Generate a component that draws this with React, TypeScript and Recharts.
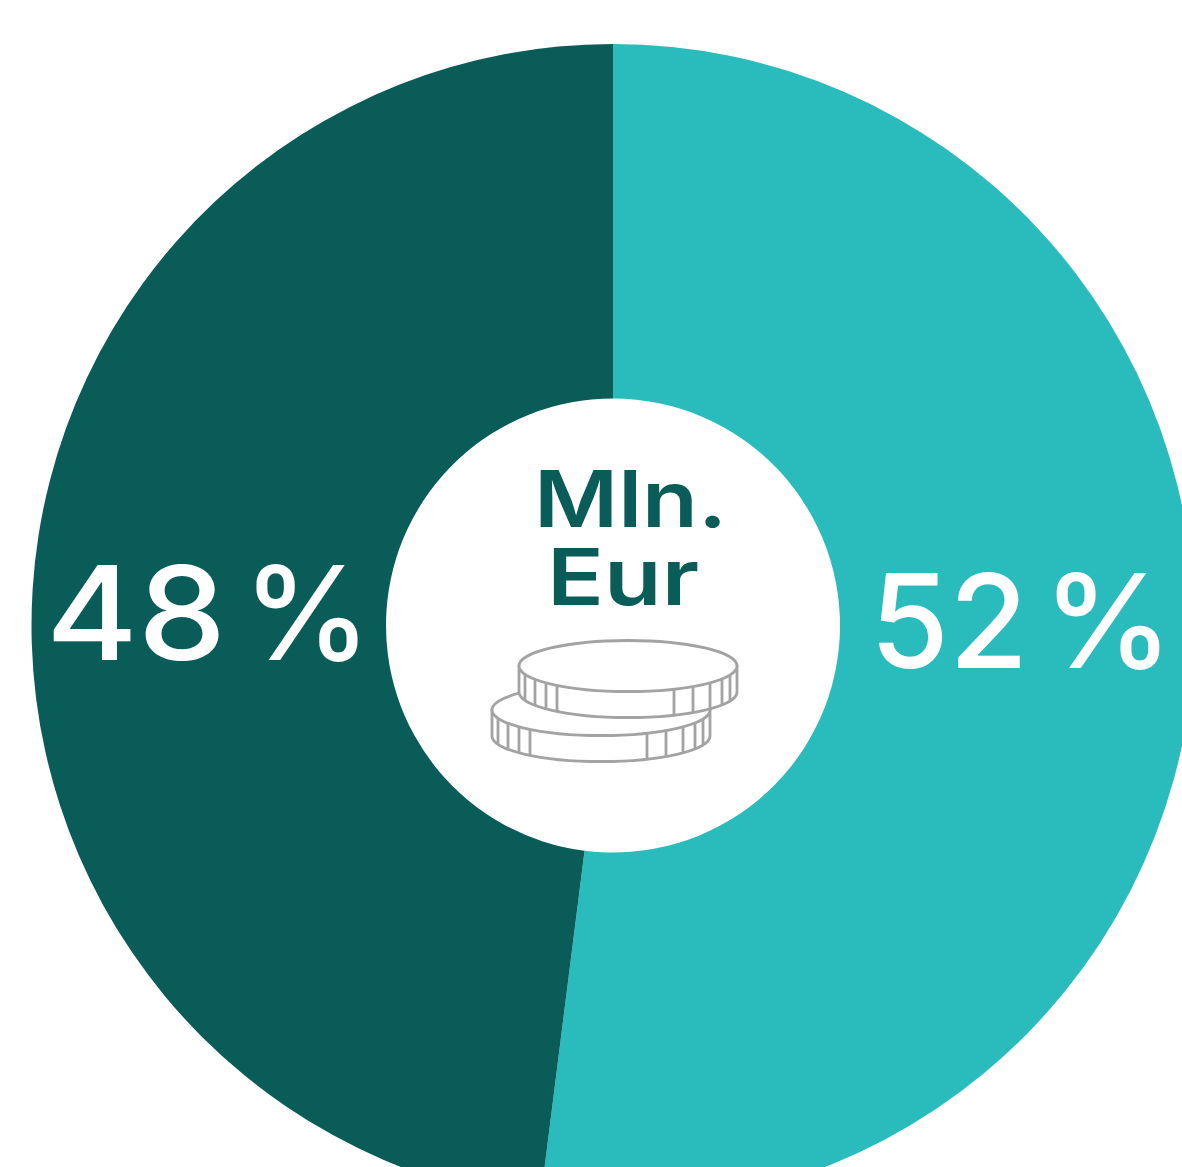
import { Pie, PieChart } from "recharts";

const segments = ["Rest", "Share"];
const shares = [52, 48];
const fills = ["#2ABCBD", "#0A5C58"];
const centerLines = ["Mln.", "Eur"];
const coinTicks = [-103, -93, -82, -71, 46, 65, 82, 94, 102];

const data = segments.map((name, i) => ({ name, value: shares[i], fill: fills[i] }));

const font = "Inter, 'Noto Sans', sans-serif";
const RX = 109;
const RY = 25.5;
const DEPTH = 26;

function Coin({ cx, cy }: { cx: number; cy: number }) {
  const l = cx - RX;
  const r = cx + RX;
  return (
    <g stroke="#A3A3A3" strokeWidth={2.8} fill="#fff">
      <path
        d={`M${l} ${cy}L${l} ${cy + DEPTH}A${RX} ${RY} 0 0 0 ${r} ${cy + DEPTH}L${r} ${cy}Z`}
      />
      {coinTicks.map((dx) => {
        const y = cy + RY * Math.sqrt(1 - (dx / RX) ** 2);
        return <line key={dx} x1={cx + dx} x2={cx + dx} y1={y} y2={y + DEPTH} />;
      })}
      <ellipse cx={cx} cy={cy} rx={RX} ry={RY} />
    </g>
  );
}

// one label per slice, placed by hand to sit like the original
function renderShare({ index, value }: { index: number; value: number }) {
  const spot =
    index === 0
      ? { x: 870, y: 668, w: 158, px: 1043, pw: 130 }
      : { x: 46, y: 660, w: 180, px: 243, pw: 128 };
  return (
    <text y={spot.y} fontFamily={font} fontSize={130} fontWeight={500} fill="#fff" stroke="none" textAnchor="start">
      <tspan x={spot.x} textLength={spot.w} lengthAdjust="spacingAndGlyphs">
        {value}
      </tspan>{" "}
      <tspan x={spot.px} textLength={spot.pw} lengthAdjust="spacingAndGlyphs">
        %
      </tspan>
    </text>
  );
}

export default function App() {
  return (
    <div style={{ position: "absolute", left: 0, top: 0, width: 1182, height: 1167, overflow: "hidden" }}>
      <PieChart width={1182} height={1167} margin={{ top: 0, right: 0, bottom: 0, left: 0 }}>
        <Pie
          data={data}
          dataKey="value"
          nameKey="name"
          cx={613}
          cy={625.5}
          innerRadius={227}
          outerRadius={581.5}
          startAngle={90}
          endAngle={-270}
          stroke="none"
          label={renderShare}
          labelLine={false}
          isAnimationActive={false}
        />
        <text x={534} y={527} fontFamily={font} fontSize={78} fontWeight={600} fill="#0A5C58" textLength={193} lengthAdjust="spacingAndGlyphs">
          {centerLines[0]}
        </text>
        <text x={547} y={605} fontFamily={font} fontSize={78} fontWeight={600} fill="#0A5C58" textLength={152} lengthAdjust="spacingAndGlyphs">
          {centerLines[1]}
        </text>
        <Coin cx={601} cy={710} />
        <Coin cx={628} cy={666} />
      </PieChart>
    </div>
  );
}
